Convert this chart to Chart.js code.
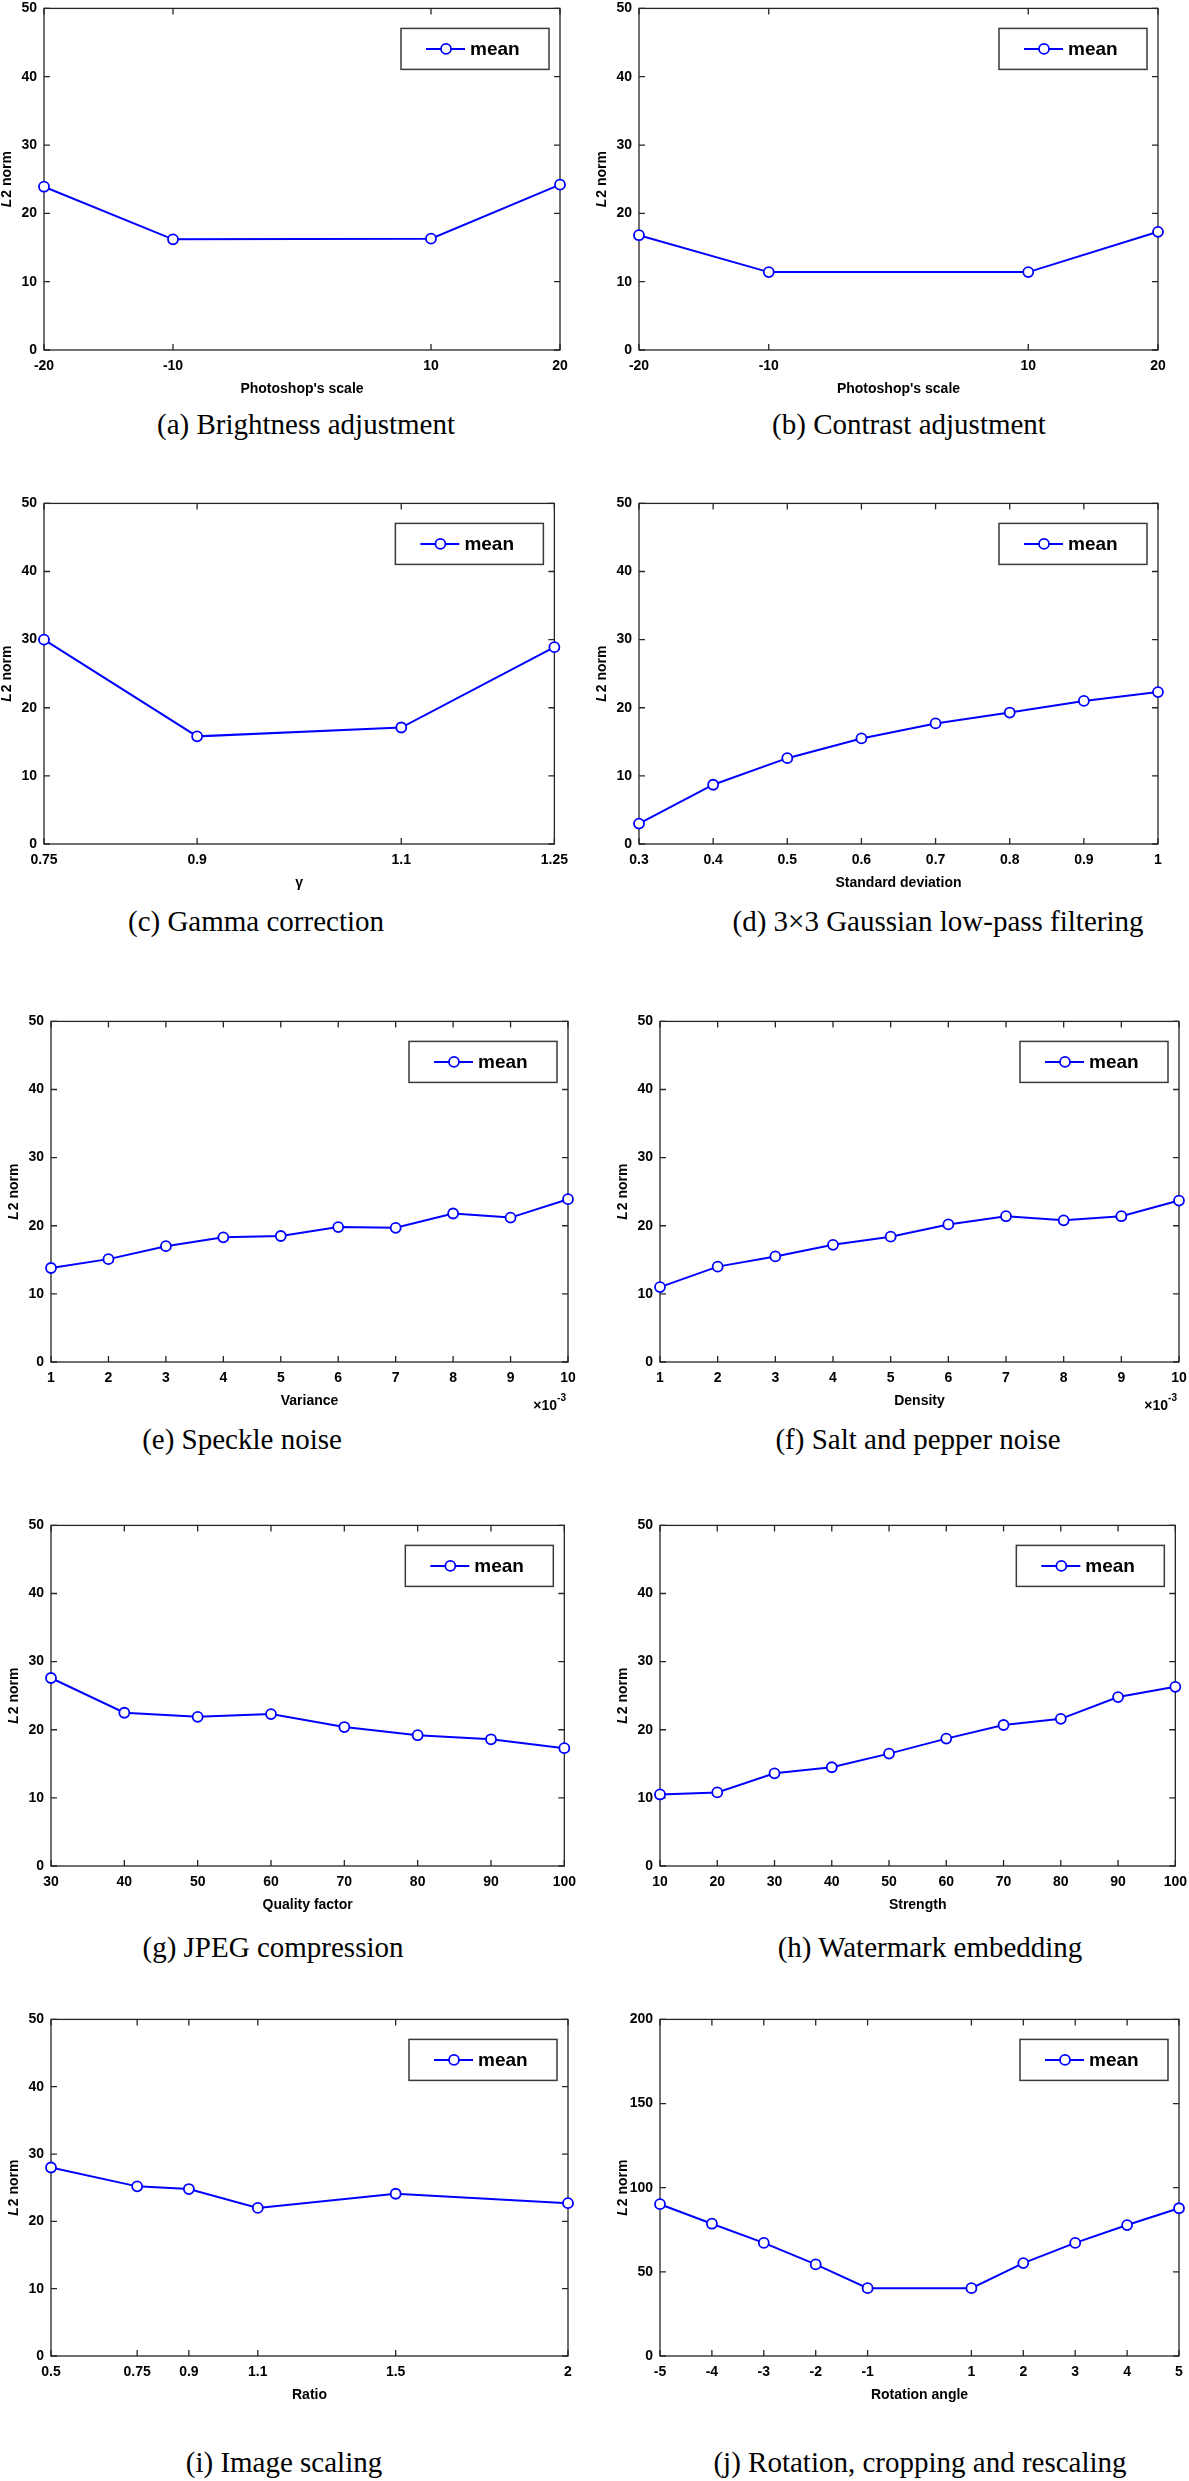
<!DOCTYPE html>
<html>
<head>
<meta charset="utf-8">
<script src="https://cdn.jsdelivr.net/npm/chart.js@4.4.0/dist/chart.umd.min.js"></script>
<style>
  body { margin: 0; background: #fff; width: 1189px; height: 2481px; position: relative; overflow: hidden; }
  canvas { position: absolute; }
  .cap {
    position: absolute; white-space: nowrap; color: #000;
    font-family: 'Liberation Serif', 'Times New Roman', serif; font-size: 29px;
    transform: translate(-50%, -50%);
  }
</style>
</head>
<body>
<script>
// values (mean L2 norm per attack strength)
const xBrightness = [-20, -10, 10, 20];
const yBrightness = [23.9, 16.2, 16.3, 24.2];

const xContrast = [-20, -10, 10, 20];
const yContrast = [16.8, 11.4, 11.4, 17.3];

const xGamma = [0.75, 0.9, 1.1, 1.25];
const yGamma = [30.0, 15.8, 17.1, 28.9];

const xGauss = [0.3, 0.4, 0.5, 0.6, 0.7, 0.8, 0.9, 1];
const yGauss = [3.0, 8.7, 12.6, 15.5, 17.7, 19.3, 21.0, 22.3];

const xSpeckle = [1, 2, 3, 4, 5, 6, 7, 8, 9, 10];
const ySpeckle = [13.8, 15.1, 17.0, 18.3, 18.5, 19.8, 19.7, 21.8, 21.2, 23.9];

const xSaltPepper = [1, 2, 3, 4, 5, 6, 7, 8, 9, 10];
const ySaltPepper = [11.0, 14.0, 15.5, 17.2, 18.4, 20.2, 21.4, 20.8, 21.4, 23.7];

const xJpeg = [30, 40, 50, 60, 70, 80, 90, 100];
const yJpeg = [27.6, 22.5, 21.9, 22.3, 20.4, 19.2, 18.6, 17.3];

const xWatermark = [10, 20, 30, 40, 50, 60, 70, 80, 90, 100];
const yWatermark = [10.5, 10.8, 13.6, 14.5, 16.5, 18.7, 20.7, 21.6, 24.8, 26.3];

const xScaling = [0.5, 0.75, 0.9, 1.1, 1.5, 2];
const yScaling = [28.0, 25.2, 24.8, 22.0, 24.1, 22.7];

const xRotation = [-5, -4, -3, -2, -1, 1, 2, 3, 4, 5];
const yRotation = [90.2, 78.6, 67.2, 54.4, 40.3, 40.3, 55.2, 67.2, 77.8, 87.8];

const yTicks50 = [0, 50, 10];     // min, max, step
const yTicks200 = [0, 200, 50];

const panels = [
  { xs: xBrightness, ys: yBrightness, yt: yTicks50, xTitle: "Photoshop's scale", cap: '(a) Brightness adjustment',
    box: [44, 5, 516, 345], capPos: [306, 424] },
  { xs: xContrast, ys: yContrast, yt: yTicks50, xTitle: "Photoshop's scale", cap: '(b) Contrast adjustment',
    box: [639, 5, 519, 345], capPos: [909, 424] },
  { xs: xGamma, ys: yGamma, yt: yTicks50, xTitle: 'γ', cap: '(c) Gamma correction',
    box: [44, 500, 516, 344], capPos: [256, 921] },
  { xs: xGauss, ys: yGauss, yt: yTicks50, xTitle: 'Standard deviation', cap: '(d) 3×3 Gaussian low-pass filtering',
    box: [639, 500, 519, 344], capPos: [938, 921] },
  { xs: xSpeckle, ys: ySpeckle, yt: yTicks50, xTitle: 'Variance', exp: true, cap: '(e) Speckle noise',
    box: [51, 1018, 517, 344], capPos: [242, 1439] },
  { xs: xSaltPepper, ys: ySaltPepper, yt: yTicks50, xTitle: 'Density', exp: true, cap: '(f) Salt and pepper noise',
    box: [660, 1018, 519, 344], capPos: [918, 1439] },
  { xs: xJpeg, ys: yJpeg, yt: yTicks50, xTitle: 'Quality factor', cap: '(g) JPEG compression',
    box: [51, 1522, 517, 344], capPos: [273, 1947] },
  { xs: xWatermark, ys: yWatermark, yt: yTicks50, xTitle: 'Strength', cap: '(h) Watermark embedding',
    box: [660, 1522, 519, 344], capPos: [930, 1947] },
  { xs: xScaling, ys: yScaling, yt: yTicks50, xTitle: 'Ratio', cap: '(i) Image scaling',
    box: [51, 2016, 517, 340], capPos: [284, 2462] },
  { xs: xRotation, ys: yRotation, yt: yTicks200, xTitle: 'Rotation angle', cap: '(j) Rotation, cropping and rescaling',
    box: [660, 2016, 519, 340], capPos: [920, 2462] },
];

const BLUE = '#0000ff';
const AXIS = '#262626';
const FONT = "'Liberation Sans', Arial, sans-serif";
const PAD_L = 50, PAD_T = 12, PAD_R = 16, PAD_B = 52;

Chart.defaults.font.family = FONT;
Chart.defaults.color = '#000';

// box with inward ticks on all four sides (matlab style)
const framePlugin = {
  id: 'frame',
  beforeDatasetsDraw(chart) {
    const { ctx, chartArea: a, scales: { x, y } } = chart;
    ctx.save();
    ctx.strokeStyle = AXIS;
    ctx.lineWidth = 1.3;
    ctx.strokeRect(a.left, a.top, a.right - a.left, a.bottom - a.top);
    const tl = 6;
    ctx.beginPath();
    x.ticks.forEach(t => {
      const px = x.getPixelForValue(t.value);
      ctx.moveTo(px, a.bottom); ctx.lineTo(px, a.bottom - tl);
      ctx.moveTo(px, a.top); ctx.lineTo(px, a.top + tl);
    });
    y.ticks.forEach(t => {
      const py = y.getPixelForValue(t.value);
      ctx.moveTo(a.left, py); ctx.lineTo(a.left + tl, py);
      ctx.moveTo(a.right, py); ctx.lineTo(a.right - tl, py);
    });
    ctx.stroke();
    ctx.restore();
  },
  afterDraw(chart, args, opts) {
    const { ctx, chartArea: a } = chart;
    ctx.save();
    ctx.fillStyle = '#000';

    // x title
    ctx.font = 'bold 14px ' + FONT;
    ctx.textAlign = 'center';
    ctx.textBaseline = 'middle';
    ctx.fillText(opts.xTitle, (a.left + a.right) / 2, a.bottom + 39);

    // x10^-3 multiplier
    if (opts.exp) {
      ctx.textAlign = 'right';
      ctx.font = 'bold 10px ' + FONT;
      const supW = ctx.measureText('-3').width;
      ctx.fillText('-3', a.right - 2, a.bottom + 36);
      ctx.font = 'bold 14px ' + FONT;
      ctx.fillText('×10', a.right - 2 - supW, a.bottom + 44);
    }

    // y title with italic L
    ctx.save();
    ctx.translate(a.left - 37, (a.top + a.bottom) / 2);
    ctx.rotate(-Math.PI / 2);
    ctx.textAlign = 'left';
    ctx.font = 'italic bold 14px ' + FONT;
    const wL = ctx.measureText('L').width;
    ctx.font = 'bold 14px ' + FONT;
    const wR = ctx.measureText('2 norm').width;
    const x0 = -(wL + 1 + wR) / 2;
    ctx.font = 'italic bold 14px ' + FONT;
    ctx.fillText('L', x0, 0);
    ctx.font = 'bold 14px ' + FONT;
    ctx.fillText('2 norm', x0 + wL + 1, 0);
    ctx.restore();

    // legend box
    const ds = chart.data.datasets[0];
    const bw = 148, bh = 41;
    const bx = a.right - 11 - bw, by = a.top + 20;
    const cy = by + bh / 2;
    ctx.fillStyle = '#fff';
    ctx.fillRect(bx, by, bw, bh);
    ctx.strokeStyle = '#3a3a3a';
    ctx.lineWidth = 1.5;
    ctx.strokeRect(bx, by, bw, bh);
    ctx.strokeStyle = ds.borderColor;
    ctx.lineWidth = ds.borderWidth;
    ctx.beginPath();
    ctx.moveTo(bx + 25, cy); ctx.lineTo(bx + 64, cy);
    ctx.stroke();
    ctx.beginPath();
    ctx.arc(bx + 45, cy, ds.pointRadius, 0, Math.PI * 2);
    ctx.fillStyle = ds.pointBackgroundColor;
    ctx.fill();
    ctx.lineWidth = ds.pointBorderWidth;
    ctx.stroke();
    ctx.fillStyle = '#000';
    ctx.font = 'bold 19px ' + FONT;
    ctx.textAlign = 'left';
    ctx.textBaseline = 'middle';
    ctx.fillText(ds.label, bx + 69, cy + 1);

    ctx.restore();
  }
};

panels.forEach(p => {
  const [left, top, w, h] = p.box;
  const cv = document.createElement('canvas');
  cv.width = w + PAD_L + PAD_R;
  cv.height = h + PAD_T + PAD_B;
  cv.style.left = (left - PAD_L) + 'px';
  cv.style.top = (top - PAD_T) + 'px';
  document.body.appendChild(cv);

  const cap = document.createElement('div');
  cap.className = 'cap';
  cap.textContent = p.cap;
  cap.style.left = p.capPos[0] + 'px';
  cap.style.top = p.capPos[1] + 'px';
  document.body.appendChild(cap);

  const xs = p.xs;
  new Chart(cv, {
    type: 'line',
    data: {
      datasets: [{
        label: 'mean',
        data: xs.map((v, i) => ({ x: v, y: p.ys[i] })),
        borderColor: BLUE,
        borderWidth: 2,
        pointStyle: 'circle',
        pointRadius: 5,
        pointBorderWidth: 1.8,
        pointBorderColor: BLUE,
        pointBackgroundColor: '#fff',
        tension: 0,
        clip: false
      }]
    },
    options: {
      responsive: false,
      animation: false,
      layout: { autoPadding: false, padding: { left: 0, top: PAD_T, right: PAD_R, bottom: 0 } },
      plugins: {
        legend: { display: false },
        tooltip: { enabled: false },
        frame: { xTitle: p.xTitle, exp: !!p.exp }
      },
      scales: {
        x: {
          type: 'linear',
          min: xs[0],
          max: xs[xs.length - 1],
          grid: { display: false, drawTicks: false },
          border: { display: false },
          afterBuildTicks: axis => { axis.ticks = xs.map(v => ({ value: v })); },
          afterFit: axis => { axis.height = PAD_B; },
          ticks: {
            autoSkip: false, maxRotation: 0, padding: 8,
            font: { size: 14, weight: 'bold' }, color: '#000',
            callback: v => String(v)
          }
        },
        y: {
          min: p.yt[0],
          max: p.yt[1],
          grid: { display: false, drawTicks: false },
          border: { display: false },
          afterFit: axis => { axis.width = PAD_L; },
          ticks: { stepSize: p.yt[2], padding: 7, font: { size: 14, weight: 'bold' }, color: '#000' }
        }
      }
    },
    plugins: [framePlugin]
  });
});
</script>
</body>
</html>
